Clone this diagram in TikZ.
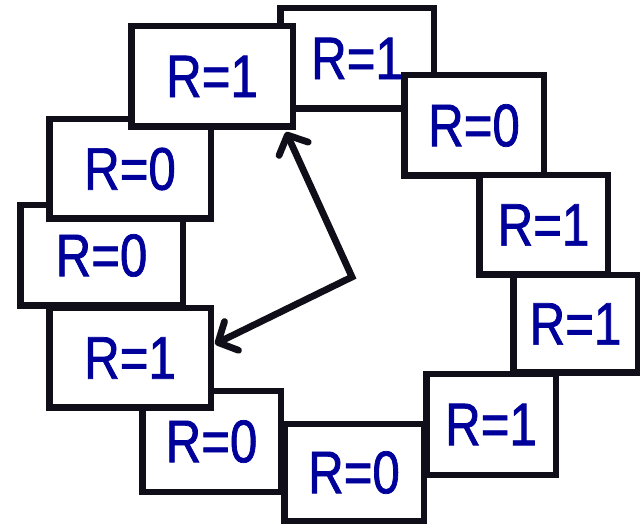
\documentclass[tikz,border=0pt]{standalone}
\usepackage{fontspec}
\newfontfamily\lbl[FakeStretch=0.82,FakeBold=1.2]{Liberation Sans}
\usetikzlibrary{arrows.meta}
\definecolor{frame}{RGB}{16,14,24}
\definecolor{txt}{RGB}{0,0,155}
\tikzset{
  rbox/.style={draw=frame, fill=white, line width=6.5pt, inner sep=0pt,
    font=\lbl\fontsize{60}{60}\selectfont, text=txt},
  pointer/.style={draw=frame, line width=6.8pt,
    {Straight Barb[length=15pt,width=32pt,round]}-{Straight Barb[length=15pt,width=32pt,round]}}
}
\newcommand\rb[6]{\node[rbox, minimum width={#4pt-#2pt-6.5pt}, minimum height={#5pt-#3pt-6.5pt}] (#1) at ({(#2+#4)/2},{(#3+#5)/2}) {#6};}
\begin{document}
\begin{tikzpicture}[x=1pt,y=-1pt]
\useasboundingbox (0,0) rectangle (640,526);
\rb{topR}{277}{5}{437}{112}{R=1}
\rb{trR}{401}{72}{547}{179}{R=0}
\rb{ruR}{476}{172}{611}{278}{R=1}
\rb{rlR}{510}{272}{641}{376}{R=1}
\rb{brR}{423}{371}{559}{478}{R=1}
\rb{bR}{281}{421}{427}{524}{R=0}
\rb{blR}{139}{388}{284}{495}{R=0}
\rb{lthree}{17}{202}{186}{309}{R=0}
\rb{ltwo}{46}{116}{214}{222}{R=0}
\rb{lR}{46}{305}{214}{411}{R=1}
\rb{tlR}{128}{23}{296}{130}{R=1}
\coordinate (c) at (352,277);
\coordinate (t1) at (286,132);
\coordinate (t2) at (215,344);
\draw[pointer] (t1) -- (c) -- (t2);
\end{tikzpicture}
\end{document}
